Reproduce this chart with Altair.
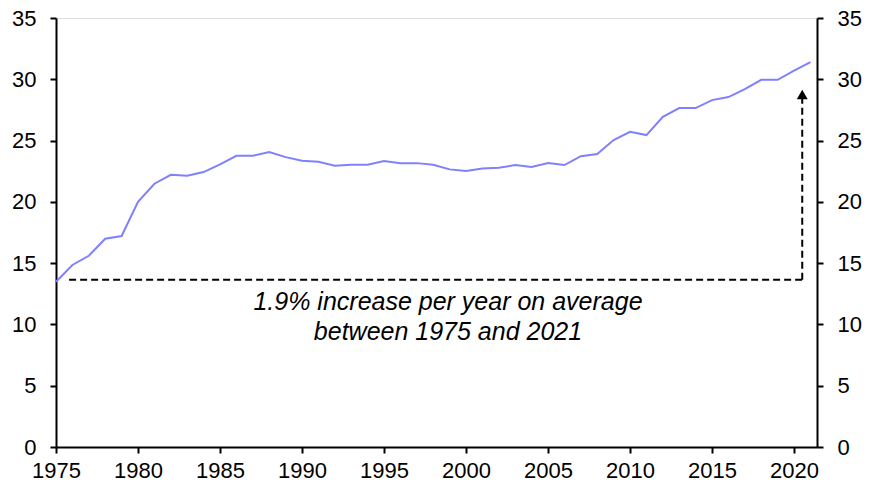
import altair as alt
import pandas as pd

years = list(range(1975, 2022))
values = [13.48, 14.85, 15.6, 16.99, 17.21, 20.0, 21.48, 22.21, 22.13, 22.43,
          23.06, 23.76, 23.76, 24.06, 23.65, 23.35, 23.27, 22.95, 23.03, 23.03,
          23.33, 23.16, 23.16, 23.03, 22.65, 22.51, 22.73, 22.78, 23.0, 22.84,
          23.16, 23.0, 23.73, 23.9, 25.04, 25.72, 25.45, 26.94, 27.65, 27.65,
          28.3, 28.55, 29.2, 29.96, 29.96, 30.7, 31.4]

note_lines = ["1.9% increase per year on average", "between 1975 and 2021"]
note_x = [1998.9, 1998.9]
note_y = [11.8, 9.35]

h_start, h_end, h_level = 1975.8, 2020.5, 13.65
arrow_top = 28.6
arrow_tip = 28.75

df = pd.DataFrame({"year": years, "value": values})

FONT = "Liberation Sans"
xdom = [1975, 2021.4]
ydom = [0, 35]

xscale = alt.Scale(domain=xdom, nice=False, zero=False)
yscale = alt.Scale(domain=ydom, nice=False)

x_axis = alt.Axis(values=list(range(1975, 2021, 5)), format="d", title=None,
                  grid=False, domainColor="black", domainWidth=2,
                  tickColor="black", tickWidth=2, tickSize=6,
                  labelFont=FONT, labelFontSize=22, labelColor="black",
                  labelPadding=7, labelFlush=False)

def y_axis(orient):
    return alt.Axis(orient=orient, values=list(range(0, 36, 5)), title=None,
                    grid=False, domainColor="black", domainWidth=2,
                    tickColor="black", tickWidth=2, tickSize=6,
                    labelFont=FONT, labelFontSize=22, labelColor="black",
                    labelPadding=14)

def X(field):
    return alt.X(field, type="quantitative", scale=xscale, axis=x_axis)

line = alt.Chart(df).mark_line(color="#8080FF", strokeWidth=2).encode(
    x=X("year"),
    y=alt.Y("value:Q", scale=yscale, axis=y_axis("left")),
)

right = alt.Chart(df).mark_line(opacity=0).encode(
    x=X("year"),
    y=alt.Y("value:Q", scale=yscale, axis=y_axis("right")),
)

hdf = pd.DataFrame({"x": [h_start], "x2": [h_end], "y": [h_level]})
hrule = alt.Chart(hdf).mark_rule(color="black", strokeWidth=2, strokeDash=[7, 4]).encode(
    x=X("x"), x2="x2:Q",
    y=alt.Y("y:Q", scale=yscale, axis=None),
)

vdf = pd.DataFrame({"x": [h_end], "y": [h_level], "y2": [arrow_top]})
vrule = alt.Chart(vdf).mark_rule(color="black", strokeWidth=2, strokeDash=[7, 4]).encode(
    x=X("x"),
    y=alt.Y("y:Q", scale=yscale, axis=None), y2="y2:Q",
)

adf = pd.DataFrame({"x": [h_end], "y": [arrow_tip]})
arrow = alt.Chart(adf).mark_point(shape="triangle-up", filled=True, color="black",
                                  opacity=1, size=120).encode(
    x=X("x"),
    y=alt.Y("y:Q", scale=yscale, axis=None),
)

tdf = pd.DataFrame({"x": note_x, "y": note_y, "t": note_lines})
text = alt.Chart(tdf).mark_text(font=FONT, fontSize=25, fontStyle="italic",
                                color="black", align="center", baseline="middle").encode(
    x=X("x"),
    y=alt.Y("y:Q", scale=yscale, axis=None),
    text="t:N",
)

chart = alt.layer(line, right, hrule, vrule, arrow, text).resolve_scale(
    y="independent"
).properties(
    width=761, height=429,
    autosize=alt.AutoSizeParams(type="none"),
    padding={"left": 48, "top": 10, "right": 50, "bottom": 40},
).configure_view(stroke=None).configure(background="white")

chart.save("out.html", embed_options={"renderer": "svg", "actions": False})
